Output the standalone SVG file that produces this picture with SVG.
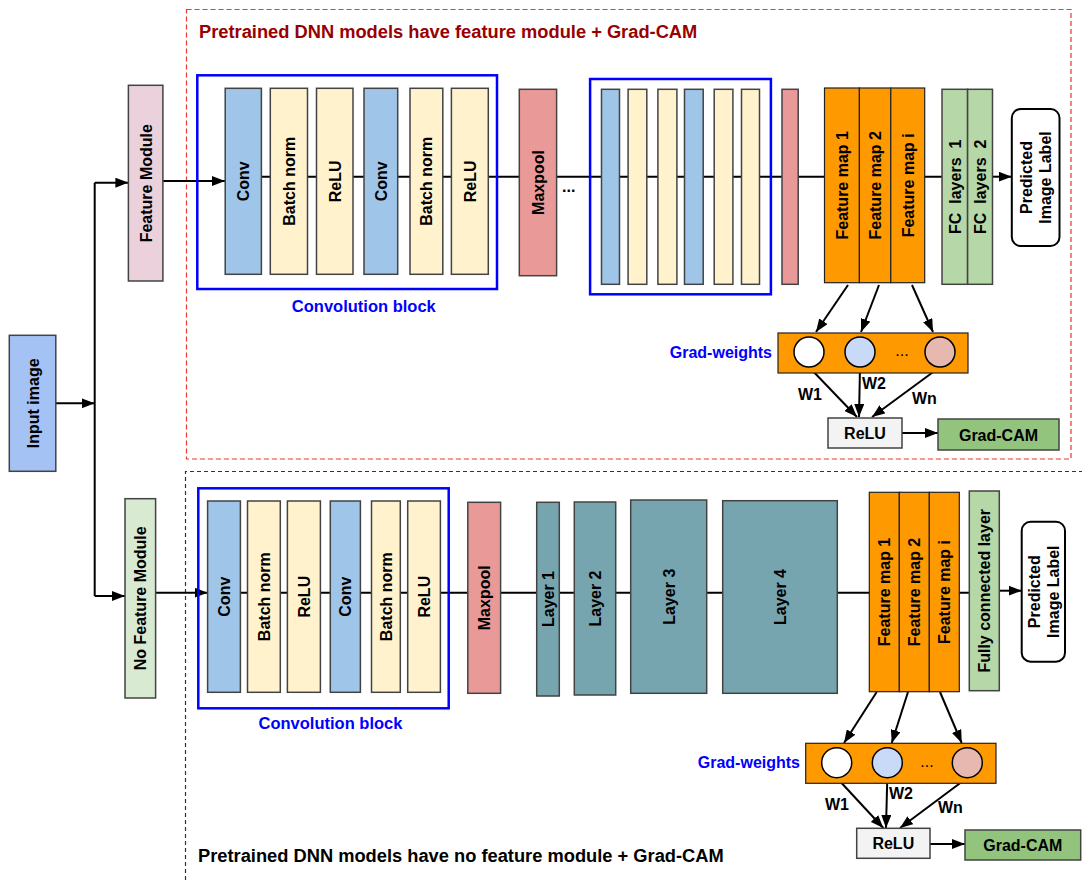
<svg xmlns="http://www.w3.org/2000/svg" width="1082" height="880" viewBox="0 0 1082 880">
<style>
text{font-family:"Liberation Sans",Arial,sans-serif;font-weight:bold;font-size:16px;fill:#000}
.c{text-anchor:middle}
.box{stroke:#434343;stroke-width:1.5}
.conv{fill:#9fc5e8}
.cream{fill:#fff2cc}
.pool{fill:#ea9999}
.fm{fill:#ff9900;stroke:#222;stroke-width:1.2}
.fc{fill:#b6d7a8}
.layer{fill:#76a5af}
.blk{fill:none;stroke:#0000ff;stroke-width:2.5}
.ln{fill:none;stroke:#000;stroke-width:2}
.ar{fill:none;stroke:#000;stroke-width:2;marker-end:url(#ah)}
.blue{fill:#0000ff}
</style>
<defs>
<marker id="ah" viewBox="0 0 13 10" refX="13" refY="5" markerWidth="13" markerHeight="10" markerUnits="userSpaceOnUse" orient="auto"><path d="M0,0 L13,5 L0,10 z" fill="#000"/></marker>
</defs>
<rect width="1082" height="880" fill="#fff"/>

<g id="frames">
<rect x="186.5" y="9.5" width="884.5" height="449.5" fill="none" stroke="#e8392a" stroke-width="1.2" stroke-dasharray="5,3"/>
<text x="199" y="38" style="font-size:18.3px;fill:#990000">Pretrained DNN models have feature module + Grad-CAM</text>
<path d="M185.5,880 V471.5 H1082" fill="none" stroke="#333" stroke-width="1.2" stroke-dasharray="4,3"/>
<text x="198" y="862" style="font-size:18.3px">Pretrained DNN models have no feature module + Grad-CAM</text>
</g>

<g id="connectors">
<path class="ar" d="M55.8,403.3 H94.7"/>
<path class="ln" d="M94.7,182.7 V596"/>
<path class="ar" d="M94.7,182.7 H128.4"/>
<path class="ar" d="M94.7,596 H125"/>
<path class="ar" d="M162.9,181 H225"/>
<path class="ln" d="M261,176.7 H942"/>
<path class="ar" d="M992.5,176.7 H1011.8"/>
<path class="ar" d="M155.6,592.7 H207.6"/>
<path class="ln" d="M240,592.7 H969.3"/>
<path class="ar" d="M999.3,590.7 H1021.7"/>
<path class="ar" d="M848,285 L816,332"/>
<path class="ar" d="M879,285 L861,332"/>
<path class="ar" d="M912,285 L933,332"/>
<path class="ar" d="M809,367 L857,417"/>
<path class="ar" d="M860,367 L859,417"/>
<path class="ar" d="M940,367 L872,417"/>
<path class="ar" d="M902,433 H938"/>
<path class="ar" d="M876.7,692 L844,743"/>
<path class="ar" d="M908,692 L891.7,743"/>
<path class="ar" d="M940,692 L961.7,743"/>
<path class="ar" d="M836.7,777.7 L883.3,828"/>
<path class="ar" d="M887.3,777.7 L886,828"/>
<path class="ar" d="M967.3,777.7 L900,828"/>
<path class="ar" d="M930,844 H965"/>
</g>

<g id="input-image">
<rect class="box" x="9.3" y="335.3" width="46.5" height="136" fill="#a4c2f4"/>
<text class="c" transform="translate(32.5,403.3) rotate(-90)" dy="6">Input image</text>
</g>

<g id="feature-module">
<rect class="box" x="128.4" y="85.3" width="34.5" height="195.7" fill="#ead1dc"/>
<text class="c" transform="translate(145.6,183.2) rotate(-90)" dy="6">Feature Module</text>
</g>

<g id="no-feature-module">
<rect class="box" x="125" y="498.7" width="30.6" height="199.3" fill="#d9ead3"/>
<text class="c" transform="translate(140.3,598.3) rotate(-90)" dy="6">No Feature Module</text>
</g>

<g id="top-conv-block">
<rect class="blk" x="197.3" y="75.3" width="299.7" height="213.7"/>
<rect class="box conv" x="225.2" y="88.3" width="36.2" height="186"/>
<text class="c" transform="translate(243.3,181.3) rotate(-90)" dy="6">Conv</text>
<rect class="box cream" x="270.3" y="88.3" width="37.2" height="186"/>
<text class="c" transform="translate(288.9,181.3) rotate(-90)" dy="6">Batch norm</text>
<rect class="box cream" x="316.5" y="88.3" width="36.5" height="186"/>
<text class="c" transform="translate(334.7,181.3) rotate(-90)" dy="6">ReLU</text>
<rect class="box conv" x="364" y="88.3" width="33.7" height="186"/>
<text class="c" transform="translate(380.9,181.3) rotate(-90)" dy="6">Conv</text>
<rect class="box cream" x="410" y="88.3" width="32.8" height="186"/>
<text class="c" transform="translate(426.4,181.3) rotate(-90)" dy="6">Batch norm</text>
<rect class="box cream" x="451.4" y="88.3" width="36.9" height="186"/>
<text class="c" transform="translate(469.9,181.3) rotate(-90)" dy="6">ReLU</text>
<text class="c blue" x="363.8" y="312" style="font-size:16.5px">Convolution block</text>
</g>

<g id="top-maxpool">
<rect class="box pool" x="519.3" y="89.3" width="37.3" height="186.4"/>
<text class="c" transform="translate(538,182.5) rotate(-90)" dy="6">Maxpool</text>
<text x="562" y="192">...</text>
</g>

<g id="top-block2">
<rect class="blk" x="590.1" y="79" width="180.8" height="215.3"/>
<rect class="box conv" x="601.5" y="89.3" width="18" height="195"/>
<rect class="box cream" x="628.1" y="89.3" width="18.7" height="195"/>
<rect class="box cream" x="657.9" y="89.3" width="19" height="195"/>
<rect class="box conv" x="684.5" y="89.3" width="18.7" height="195"/>
<rect class="box cream" x="714.2" y="89.3" width="18.7" height="195"/>
<rect class="box cream" x="741.5" y="89.3" width="18" height="195"/>
</g>

<g id="top-pool2">
<rect class="box pool" x="782" y="89.3" width="16.2" height="195"/>
</g>

<g id="top-feature-maps">
<rect class="fm" x="824.5" y="88" width="34.9" height="194.7"/>
<text class="c" transform="translate(842,185.3) rotate(-90)" dy="6">Feature map 1</text>
<rect class="fm" x="859.4" y="88" width="31.4" height="194.7"/>
<text class="c" transform="translate(875.1,185.3) rotate(-90)" dy="6">Feature map 2</text>
<rect class="fm" x="890.8" y="88" width="33.9" height="194.7"/>
<text class="c" transform="translate(907.8,185.3) rotate(-90)" dy="6">Feature map i</text>
</g>

<g id="top-fc">
<rect class="box fc" x="942" y="89.3" width="25.6" height="195"/>
<text class="c" transform="translate(954.8,186.8) rotate(-90)" dy="6" xml:space="preserve">FC  layers  1</text>
<rect class="box fc" x="967.6" y="89.3" width="24.9" height="195"/>
<text class="c" transform="translate(980,186.8) rotate(-90)" dy="6" xml:space="preserve">FC  layers  2</text>
</g>

<g id="top-predicted">
<rect x="1011.8" y="109" width="47.7" height="137" rx="9" fill="#fff" stroke="#000" stroke-width="2"/>
<text class="c" transform="translate(1035.6,177.5) rotate(-90)"><tspan x="0" dy="-3.5">Predicted</tspan><tspan x="0" dy="19">Image Label</tspan></text>
</g>

<g id="top-grad-weights">
<text x="772" y="358" class="blue" style="text-anchor:end">Grad-weights</text>
<rect x="778" y="333" width="190" height="40" fill="#ff9900" stroke="#222" stroke-width="1.2"/>
<circle cx="809" cy="352" r="15" fill="#fff" stroke="#000" stroke-width="1.5"/>
<circle cx="860" cy="352" r="15" fill="#c9daf8" stroke="#000" stroke-width="1.5"/>
<text class="c" x="902" y="356" style="font-weight:normal">...</text>
<circle cx="940" cy="352" r="15" fill="#e6b8af" stroke="#000" stroke-width="1.5"/>
<text x="798" y="400">W1</text>
<text x="862" y="389">W2</text>
<text x="912" y="404">Wn</text>
</g>

<g id="top-relu">
<rect class="box" x="828" y="418" width="74" height="30" fill="#f3f3f3"/>
<text class="c" x="865" y="439">ReLU</text>
</g>

<g id="top-gradcam">
<rect class="box" x="938" y="419" width="121" height="31" fill="#93c47d"/>
<text class="c" x="998.5" y="440.5">Grad-CAM</text>
</g>

<g id="bottom-conv-block">
<rect class="blk" x="198.3" y="488.3" width="250.4" height="220"/>
<rect class="box conv" x="207.6" y="501" width="32.8" height="191.3"/>
<text class="c" transform="translate(224,596.7) rotate(-90)" dy="6">Conv</text>
<rect class="box cream" x="247.5" y="501" width="32.8" height="191.3"/>
<text class="c" transform="translate(263.9,596.7) rotate(-90)" dy="6">Batch norm</text>
<rect class="box cream" x="287.4" y="501" width="33" height="191.3"/>
<text class="c" transform="translate(303.9,596.7) rotate(-90)" dy="6">ReLU</text>
<rect class="box conv" x="330.3" y="501" width="30.1" height="191.3"/>
<text class="c" transform="translate(345.4,596.7) rotate(-90)" dy="6">Conv</text>
<rect class="box cream" x="371.5" y="501" width="28.8" height="191.3"/>
<text class="c" transform="translate(385.9,596.7) rotate(-90)" dy="6">Batch norm</text>
<rect class="box cream" x="407.7" y="501" width="32.7" height="191.3"/>
<text class="c" transform="translate(424,596.7) rotate(-90)" dy="6">ReLU</text>
<text class="c blue" x="330.5" y="729.3" style="font-size:16.5px">Convolution block</text>
</g>

<g id="bottom-maxpool">
<rect class="box pool" x="467.8" y="502.3" width="32.8" height="191"/>
<text class="c" transform="translate(484.2,597.8) rotate(-90)" dy="6">Maxpool</text>
</g>

<g id="layer1">
<rect class="box layer" x="536.7" y="502.3" width="22.6" height="193.7"/>
<text class="c" transform="translate(548,599) rotate(-90)" dy="6">Layer 1</text>
</g>
<g id="layer2">
<rect class="box layer" x="574.3" y="502" width="41.4" height="193"/>
<text class="c" transform="translate(595,598.5) rotate(-90)" dy="6">Layer 2</text>
</g>
<g id="layer3">
<rect class="box layer" x="630.7" y="500" width="76" height="193.3"/>
<text class="c" transform="translate(668.7,596.7) rotate(-90)" dy="6">Layer 3</text>
</g>
<g id="layer4">
<rect class="box layer" x="722.7" y="500.7" width="114.6" height="192.6"/>
<text class="c" transform="translate(780,597) rotate(-90)" dy="6">Layer 4</text>
</g>

<g id="bottom-feature-maps">
<rect class="fm" x="869.3" y="492.3" width="30" height="199.4"/>
<text class="c" transform="translate(884.3,592) rotate(-90)" dy="6">Feature map 1</text>
<rect class="fm" x="899.3" y="492.3" width="30" height="199.4"/>
<text class="c" transform="translate(914.3,592) rotate(-90)" dy="6">Feature map 2</text>
<rect class="fm" x="929.3" y="492.3" width="30" height="199.4"/>
<text class="c" transform="translate(944.3,592) rotate(-90)" dy="6">Feature map i</text>
</g>

<g id="bottom-fc">
<rect class="box fc" x="969.3" y="491" width="30" height="199.7"/>
<text class="c" transform="translate(984.3,590.8) rotate(-90)" dy="6">Fully connected layer</text>
</g>

<g id="bottom-predicted">
<rect x="1021.7" y="521.7" width="43.3" height="140" rx="9" fill="#fff" stroke="#000" stroke-width="2"/>
<text class="c" transform="translate(1043.3,591.7) rotate(-90)"><tspan x="0" dy="-3.5">Predicted</tspan><tspan x="0" dy="19">Image Label</tspan></text>
</g>

<g id="bottom-grad-weights">
<text x="800" y="768" class="blue" style="text-anchor:end">Grad-weights</text>
<rect x="805.7" y="743.3" width="190.3" height="40" fill="#ff9900" stroke="#222" stroke-width="1.2"/>
<circle cx="836.7" cy="762.7" r="15" fill="#fff" stroke="#000" stroke-width="1.5"/>
<circle cx="887.3" cy="762.7" r="15" fill="#c9daf8" stroke="#000" stroke-width="1.5"/>
<text class="c" x="927" y="767" style="font-weight:normal">...</text>
<circle cx="967.3" cy="762.7" r="15" fill="#e6b8af" stroke="#000" stroke-width="1.5"/>
<text x="825" y="810">W1</text>
<text x="889" y="799">W2</text>
<text x="938" y="813">Wn</text>
</g>

<g id="bottom-relu">
<rect class="box" x="856.7" y="828.3" width="73.3" height="30" fill="#f3f3f3"/>
<text class="c" x="893.3" y="849">ReLU</text>
</g>

<g id="bottom-gradcam">
<rect class="box" x="965" y="830" width="115.7" height="30" fill="#93c47d"/>
<text class="c" x="1022.8" y="851">Grad-CAM</text>
</g>
</svg>
